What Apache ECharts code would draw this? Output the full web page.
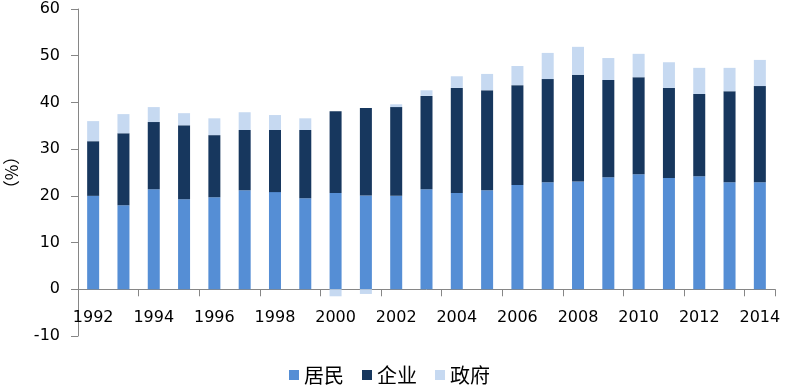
<!DOCTYPE html>
<html>
<head>
<meta charset="utf-8">
<script src="https://cdn.jsdelivr.net/npm/echarts@6/dist/echarts.min.js"></script>
<style>html,body{margin:0;padding:0;background:#fff}#c{width:786px;height:388px}</style>
</head>
<body>
<div id="c"></div>
<script>
const years = ['1992','1993','1994','1995','1996','1997','1998','1999','2000','2001','2002','2003','2004','2005','2006','2007','2008','2009','2010','2011','2012','2013','2014'];
const household = [20.0,18.0,21.4,19.3,19.7,21.2,20.8,19.5,20.6,20.1,20.0,21.4,20.6,21.2,22.3,22.9,23.1,24.0,24.6,23.8,24.2,22.9,22.9];
const enterprise = [11.7,15.4,14.4,15.8,13.3,12.9,13.3,14.6,17.5,18.7,19.0,20.0,22.5,21.4,21.4,22.1,22.8,20.8,20.8,19.3,17.6,19.5,20.6];
const government = [4.3,4.1,3.2,2.6,3.6,3.8,3.2,2.5,-1.5,-1.0,0.6,1.2,2.5,3.5,4.1,5.6,6.0,4.7,5.0,5.5,5.6,5.0,5.6];
const seriesNames = ['居民','企业','政府'];
const colors = ['#558ED5','#17375E','#C6D9F1'];

const chart = echarts.init(document.getElementById('c'), null, {renderer:'canvas'});
const font = 'DejaVu Sans';
const cjk = '"Noto Sans CJK SC", sans-serif';
const mk = (name, data, color) => ({
  name, type:'bar', stack:'total', data, barWidth:12,
  itemStyle:{color}, emphasis:{disabled:true}
});
chart.setOption({
  animation:false,
  grid:{left:78, right:11, top:9, bottom:52, containLabel:false, outerBoundsMode:'none'},
  legend:{
    bottom:-2, left:284, itemWidth:10, itemHeight:10, itemGap:18,
    icon:'rect',
    textStyle:{fontFamily:cjk, fontSize:20, color:'#000'},
    data:seriesNames
  },
  xAxis:{
    type:'category', data:years,
    axisLine:{onZero:true, lineStyle:{color:'#868686'}},
    axisTick:{show:true, interval:1, length:7, lineStyle:{color:'#868686'}},
    axisLabel:{interval:1, margin:-26, fontFamily:font, fontSize:16, color:'#000'}
  },
  yAxis:{
    type:'value', min:-10, max:60, interval:10,
    name:'（%）', nameLocation:'middle', nameRotate:90, nameGap:58,
    nameTextStyle:{fontFamily:cjk, fontSize:17, color:'#000'},
    axisLine:{show:true, lineStyle:{color:'#868686'}},
    axisTick:{show:true, length:7, lineStyle:{color:'#868686'}},
    splitLine:{show:false},
    axisLabel:{margin:18, fontFamily:font, fontSize:16, color:'#000'}
  },
  series:[
    mk(seriesNames[0], household, colors[0]),
    mk(seriesNames[1], enterprise, colors[1]),
    mk(seriesNames[2], government, colors[2])
  ]
});
</script>
</body>
</html>
